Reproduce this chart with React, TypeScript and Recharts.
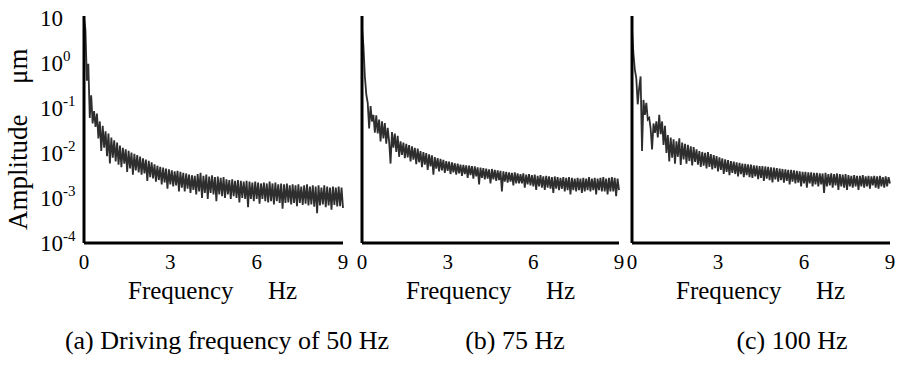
import React from 'react';
import { LineChart, Line, XAxis, YAxis } from 'recharts';

const FONT = '"Liberation Serif", "Times New Roman", serif';

// spectral bin width of the FFT, Hz
const FREQ_STEP = 0.05;

// amplitude (um) per bin, one row = 0.5 Hz
const amp50Hz = [
  10, 5.5, 0.4, 0.95, 0.06, 0.19, 0.045, 0.085, 0.038, 0.075,
  0.021, 0.05, 0.011, 0.04, 0.013, 0.03, 0.0085, 0.027, 0.0058, 0.022,
  0.0078, 0.019, 0.0065, 0.017, 0.0055, 0.0145, 0.0048, 0.013, 0.0058, 0.012,
  0.0038, 0.0112, 0.0045, 0.0102, 0.0033, 0.0095, 0.0041, 0.0089, 0.0037, 0.0083,
  0.0033, 0.0076, 0.0035, 0.0071, 0.0024, 0.0067, 0.0029, 0.0062, 0.0027, 0.0056,
  0.0023, 0.0052, 0.0025, 0.0049, 0.002, 0.0047, 0.0022, 0.0045, 0.0016, 0.0043,
  0.002, 0.0041, 0.0018, 0.0039, 0.0019, 0.004, 0.0014, 0.0038, 0.0017, 0.0036,
  0.0014, 0.0035, 0.0016, 0.0033, 0.0013, 0.0032, 0.0015, 0.0031, 0.0012, 0.0034,
  0.0014, 0.0036, 0.001, 0.0031, 0.0013, 0.0033, 0.00095, 0.003, 0.0013, 0.0032,
  0.0012, 0.0029, 0.00085, 0.003, 0.0012, 0.0028, 0.0011, 0.0029, 0.001, 0.0026,
  0.0012, 0.0025, 0.00095, 0.0026, 0.0011, 0.0024, 0.001, 0.0025, 0.0008, 0.0024,
  0.001, 0.0023, 0.00095, 0.0024, 0.00062, 0.0023, 0.00095, 0.0022, 0.00085, 0.0023,
  0.00095, 0.0022, 0.00075, 0.0021, 0.00095, 0.0022, 0.00085, 0.0021, 0.0008, 0.0023,
  0.00085, 0.0021, 0.00072, 0.0022, 0.00085, 0.002, 0.00078, 0.0021, 0.00058, 0.002,
  0.00078, 0.0021, 0.0008, 0.0019, 0.00072, 0.002, 0.00078, 0.0019, 0.00066, 0.002,
  0.00078, 0.0018, 0.0007, 0.0019, 0.00075, 0.002, 0.00068, 0.0018, 0.00072, 0.0019,
  0.00064, 0.0018, 0.00046, 0.0019, 0.00068, 0.0017, 0.00072, 0.0019, 0.00062, 0.0018,
  0.00068, 0.0017, 0.00055, 0.0018, 0.0007, 0.0017, 0.00065, 0.0018, 0.00066, 0.0017,
  0.0006,
];

const amp75Hz = [
  6, 2.4, 0.5, 0.2, 0.13, 0.035, 0.11, 0.05, 0.07, 0.028,
  0.068, 0.027, 0.055, 0.018, 0.05, 0.021, 0.046, 0.016, 0.036, 0.018,
  0.0058, 0.029, 0.013, 0.027, 0.0105, 0.024, 0.0082, 0.018, 0.009, 0.017,
  0.0076, 0.016, 0.008, 0.015, 0.0065, 0.014, 0.0071, 0.013, 0.0056, 0.0125,
  0.0062, 0.011, 0.0048, 0.0104, 0.0055, 0.0099, 0.0042, 0.0093, 0.005, 0.0088,
  0.0033, 0.0081, 0.0045, 0.0077, 0.0039, 0.0074, 0.0041, 0.007, 0.0036, 0.0066,
  0.004, 0.0064, 0.0034, 0.0062, 0.0037, 0.0059, 0.0033, 0.0058, 0.0035, 0.0055,
  0.0031, 0.0054, 0.0034, 0.0053, 0.0028, 0.0052, 0.0032, 0.0051, 0.0027, 0.005,
  0.003, 0.0048, 0.002, 0.0047, 0.0028, 0.0046, 0.0026, 0.0045, 0.0027, 0.0043,
  0.0021, 0.0044, 0.0026, 0.0042, 0.0024, 0.0041, 0.0025, 0.004, 0.0014, 0.0039,
  0.0023, 0.0038, 0.0022, 0.0037, 0.0023, 0.0036, 0.0019, 0.0037, 0.0021, 0.0035,
  0.0021, 0.0034, 0.0021, 0.0035, 0.0017, 0.0033, 0.002, 0.0034, 0.0019, 0.0032,
  0.0018, 0.0033, 0.0015, 0.0031, 0.0018, 0.0032, 0.0017, 0.003, 0.0015, 0.0031,
  0.0017, 0.003, 0.0016, 0.0029, 0.0013, 0.003, 0.0016, 0.0029, 0.0015, 0.0028,
  0.0016, 0.0029, 0.0014, 0.0028, 0.0015, 0.0029, 0.0012, 0.0028, 0.0015, 0.0027,
  0.0014, 0.0028, 0.0015, 0.0027, 0.0013, 0.0028, 0.0014, 0.0027, 0.0015, 0.0029,
  0.0014, 0.0027, 0.0015, 0.0028, 0.0012, 0.0027, 0.0015, 0.0028, 0.0014, 0.0029,
  0.0014, 0.0027, 0.0012, 0.0028, 0.0014, 0.0029, 0.0014, 0.0028, 0.0011, 0.0027,
  0.0015,
];

const amp100Hz = [
  5.5, 1.6, 0.7, 0.45, 0.12, 0.28, 0.5, 0.011, 0.15, 0.07,
  0.13, 0.055, 0.06, 0.035, 0.012, 0.045, 0.028, 0.05, 0.022, 0.07,
  0.026, 0.05, 0.015, 0.04, 0.01, 0.025, 0.0065, 0.022, 0.0078, 0.02,
  0.0058, 0.018, 0.0082, 0.021, 0.0054, 0.017, 0.0072, 0.016, 0.0058, 0.0152,
  0.0066, 0.014, 0.0053, 0.0135, 0.0063, 0.012, 0.0055, 0.011, 0.0049, 0.0105,
  0.0052, 0.01, 0.0045, 0.0105, 0.0049, 0.0094, 0.0043, 0.009, 0.0046, 0.0085,
  0.0039, 0.008, 0.0042, 0.0076, 0.0034, 0.0072, 0.0038, 0.0069, 0.0032, 0.0066,
  0.0036, 0.0064, 0.0034, 0.0062, 0.003, 0.006, 0.0034, 0.0058, 0.0029, 0.0057,
  0.0032, 0.0056, 0.0029, 0.0055, 0.0028, 0.0053, 0.003, 0.0052, 0.0026, 0.0051,
  0.0028, 0.0051, 0.0024, 0.005, 0.0027, 0.0049, 0.0025, 0.0048, 0.0022, 0.0047,
  0.0026, 0.0046, 0.0023, 0.0045, 0.0025, 0.0044, 0.0022, 0.0043, 0.0024, 0.0042,
  0.002, 0.0042, 0.0023, 0.0041, 0.0021, 0.004, 0.0022, 0.0039, 0.0018, 0.0038,
  0.0021, 0.0038, 0.0017, 0.0037, 0.0021, 0.0037, 0.0018, 0.0036, 0.002, 0.0036,
  0.0018, 0.0035, 0.002, 0.0035, 0.0013, 0.0036, 0.0018, 0.0034, 0.0019, 0.0035,
  0.0017, 0.0034, 0.0019, 0.0035, 0.0015, 0.0034, 0.0018, 0.0033, 0.0017, 0.0034,
  0.0015, 0.0032, 0.0018, 0.0031, 0.0017, 0.0032, 0.0018, 0.0031, 0.0015, 0.0031,
  0.0018, 0.0032, 0.0017, 0.003, 0.0018, 0.0031, 0.0016, 0.003, 0.0019, 0.0031,
  0.0017, 0.003, 0.0016, 0.0031, 0.0018, 0.0029, 0.0017, 0.003, 0.0018, 0.0029,
  0.0021,
];

const xTicks = [0, 3, 6, 9];
const xInnerTicks = [3, 6];
const yLabelTicks = [10, 1, 0.1, 0.01, 0.001, 0.0001];
const yInnerTicks = [8.9, 0.562, 0.0316, 0.00178];
const yDomain = [0.0001, 10.96];
const captions = ['(a) Driving frequency of 50 Hz', '(b) 75 Hz', '(c) 100 Hz'];

const toRows = (values: number[]) =>
  values.map((amp, i) => ({ f: +(i * FREQ_STEP).toFixed(2), amp }));

const PowerTick = (props: any) => {
  const { x, y, payload } = props;
  const exp = Math.round(Math.log10(payload.value));
  return (
    <text x={x - 36} y={y} dy={8} fontSize={23} fontFamily={FONT} fill="#000">
      10
      {exp !== 1 && (
        <tspan fontSize={15} dy={-10}>
          {exp}
        </tspan>
      )}
    </text>
  );
};

const Y_AXIS_W = 84;

const Panel: React.FC<{ values: number[]; left: number; plotWidth: number; showY: boolean }> = ({
  values,
  left,
  plotWidth,
  showY,
}) => {
  const data = toRows(values);
  return (
    <div style={{ position: 'absolute', left, top: 0 }}>
      <LineChart
        width={Y_AXIS_W + plotWidth + 12}
        height={300}
        data={data}
        margin={{ top: 16, right: 12, bottom: 7, left: 0 }}
      >
        <XAxis
          dataKey="f"
          type="number"
          domain={[0, 9]}
          ticks={xTicks}
          interval={0}
          tickLine={false}
          tickMargin={5}
          axisLine={{ stroke: '#000', strokeWidth: 3 }}
          tick={{ fontSize: 21, fill: '#000', fontFamily: FONT }}
          height={50}
        />
        <XAxis
          xAxisId="in"
          type="number"
          domain={[0, 9]}
          ticks={xInnerTicks}
          allowDataOverflow
          mirror
          axisLine={false}
          tick={false}
          tickSize={5}
          tickLine={{ stroke: '#bbb' }}
        />
        <YAxis
          type="number"
          scale="log"
          domain={yDomain}
          allowDataOverflow
          ticks={yLabelTicks}
          interval={0}
          tickLine={false}
          axisLine={{ stroke: '#000', strokeWidth: 3 }}
          tick={showY ? (p: any) => <PowerTick {...p} /> : false}
          width={Y_AXIS_W}
        />
        <YAxis
          yAxisId="in"
          type="number"
          scale="log"
          domain={yDomain}
          allowDataOverflow
          ticks={yInnerTicks}
          interval={0}
          mirror
          axisLine={false}
          tick={false}
          tickSize={5}
          tickLine={{ stroke: '#bbb' }}
        />
        <Line
          dataKey="amp"
          type="linear"
          stroke="#2e2e2e"
          strokeWidth={1.8}
          dot={false}
          isAnimationActive={false}
        />
      </LineChart>
    </div>
  );
};

const panels = [
  { values: amp50Hz, axisX: 84, plotWidth: 259, caption: captions[0], captionX: 227 },
  { values: amp75Hz, axisX: 362, plotWidth: 257, caption: captions[1], captionX: 515 },
  { values: amp100Hz, axisX: 632, plotWidth: 258, caption: captions[2], captionX: 792 },
];

export default function App() {
  return (
    <div style={{ position: 'absolute', left: 0, top: 0, width: 902, height: 367, background: '#fff' }}>
      {panels.map((p, i) => (
        <Panel key={i} values={p.values} left={p.axisX - Y_AXIS_W} plotWidth={p.plotWidth} showY={i === 0} />
      ))}
      <svg
        width={902}
        height={367}
        style={{ position: 'absolute', left: 0, top: 0, pointerEvents: 'none' }}
        fontFamily={FONT}
        fill="#000"
      >
        <text transform="translate(27,230) rotate(-90)" fontSize={27}>
          Amplitude
        </text>
        <text transform="translate(27,84) rotate(-90)" fontSize={27}>
          μm
        </text>
        {panels.map((p, i) => (
          <g key={i}>
            <text x={p.axisX + 44} y={299} fontSize={25}>
              Frequency
            </text>
            <text x={p.axisX + 184} y={299} fontSize={25}>
              Hz
            </text>
            <text x={p.captionX} y={349} fontSize={26} textAnchor="middle">
              {p.caption}
            </text>
          </g>
        ))}
      </svg>
    </div>
  );
}
